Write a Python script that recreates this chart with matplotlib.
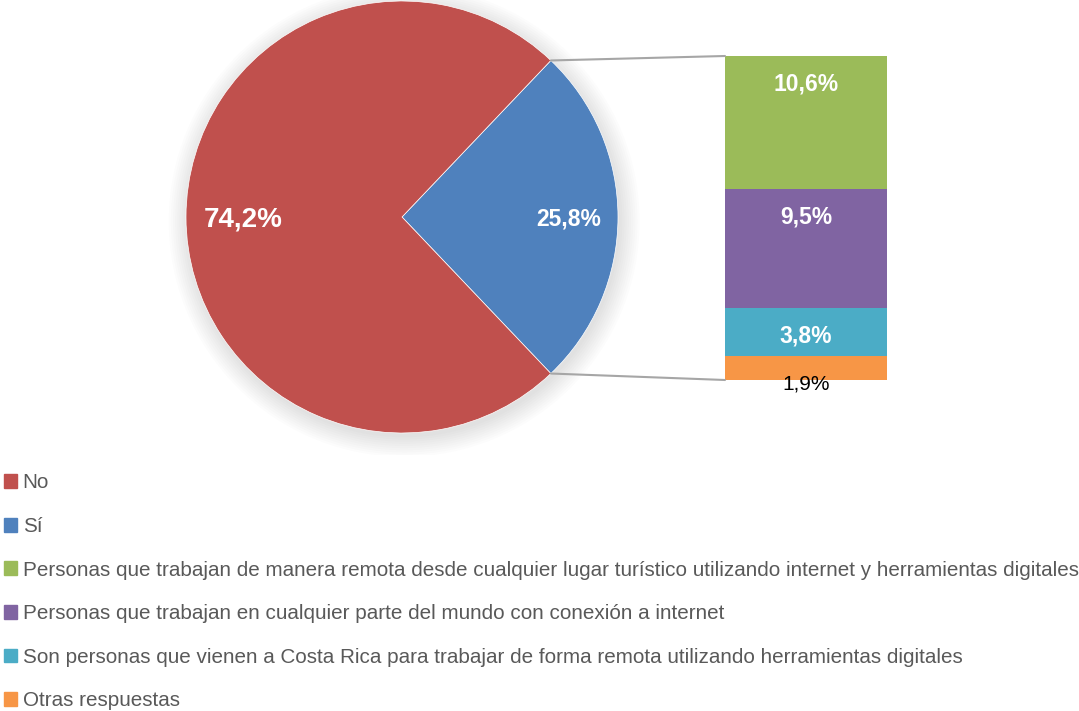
import numpy as np
import matplotlib
matplotlib.use('Agg')
import matplotlib.pyplot as plt
from matplotlib.patches import ConnectionPatch, Patch, Circle

# data
pie_labels = ['No', 'Sí']
pie_values = [74.2, 25.8]
bar_labels = ['Personas que trabajan de manera remota desde cualquier lugar turístico utilizando internet y herramientas digitales',
              'Personas que trabajan en cualquier parte del mundo con conexión a internet',
              'Son personas que vienen a Costa Rica para trabajar de forma remota utilizando herramientas digitales',
              'Otras respuestas']
bar_values = [10.6, 9.5, 3.8, 1.9]

pie_colors = ['#C0504D', '#4F81BD']
bar_colors = ['#9BBB59', '#8064A2', '#4BACC6', '#F79646']

plt.rcParams['font.family'] = ['Liberation Sans', 'DejaVu Sans']

W, H = 1079, 711
fig = plt.figure(figsize=(W / 100, H / 100), dpi=100)

# pie
ax_pie = fig.add_axes([(186 - 21.6) / W, (H - 433 - 21.6) / H, 475.2 / W, 475.2 / H])
# soft shadow
for r in np.linspace(1.09, 1.0, 10):
    ax_pie.add_patch(Circle((0.01, -0.02), r, color='#808080', alpha=0.022, linewidth=0, zorder=0))
si_angle = pie_values[1] / sum(pie_values) * 360
wedges, texts = ax_pie.pie(pie_values[::-1], colors=pie_colors[::-1], startangle=-si_angle / 2,
                           counterclock=True, radius=1,
                           wedgeprops=dict(linewidth=0.5, edgecolor='white', zorder=2))
ax_pie.text(-0.735, -0.01, f'{pie_values[0]:.1f}%'.replace('.', ','), ha='center', va='center',
            color='white', fontsize=20, fontweight='bold', zorder=3)
ax_pie.text(0.77, -0.01, f'{pie_values[1]:.1f}%'.replace('.', ','), ha='center', va='center',
            color='white', fontsize=16.5, fontweight='bold', zorder=3)
ax_pie.set_xlim(-1.1, 1.1)
ax_pie.set_ylim(-1.1, 1.1)
ax_pie.axis('off')

# stacked bar
ax_bar = fig.add_axes([725 / W, (H - 380) / H, 162 / W, 324 / H])
total = sum(bar_values)
bottom = 0
stack = list(zip(bar_values, bar_colors))[::-1]
for val, col in stack:
    ax_bar.bar(0, val, width=1, bottom=bottom, color=col, linewidth=0, zorder=2)
    bottom += val
top = total
for i, val in enumerate(bar_values):
    txt = f'{val:.1f}%'.replace('.', ',')
    if i == len(bar_values) - 1:
        ax_bar.text(0, top - 2.2, txt, ha='center', va='center', color='black', fontsize=15,
                    clip_on=False, zorder=3)
    else:
        ax_bar.text(0, top - 2.2, txt, ha='center', va='center', color='white', fontsize=16.5,
                    fontweight='bold', zorder=3)
    top -= val
ax_bar.set_xlim(-0.5, 0.5)
ax_bar.set_ylim(0, total)
ax_bar.axis('off')

# connection lines
half = np.deg2rad(si_angle / 2)
for sgn, yb in [(1, total), (-1, 0)]:
    con = ConnectionPatch(xyA=(np.cos(half), sgn * np.sin(half)), coordsA=ax_pie.transData,
                          xyB=(-0.5, yb), coordsB=ax_bar.transData,
                          color='#A6A6A6', linewidth=1.5)
    fig.add_artist(con)

# legend
handles = [Patch(color=c) for c in pie_colors + bar_colors]
labels = pie_labels + bar_labels
fig.legend(handles, labels, loc='upper left', bbox_to_anchor=(-0.004, (H - 465) / H),
           frameon=False, fontsize=14.9, labelcolor='#595959', handlelength=0.65, handleheight=0.65,
           handletextpad=0.25, labelspacing=1.19, borderaxespad=0)

fig.savefig('out.png', dpi=100)
